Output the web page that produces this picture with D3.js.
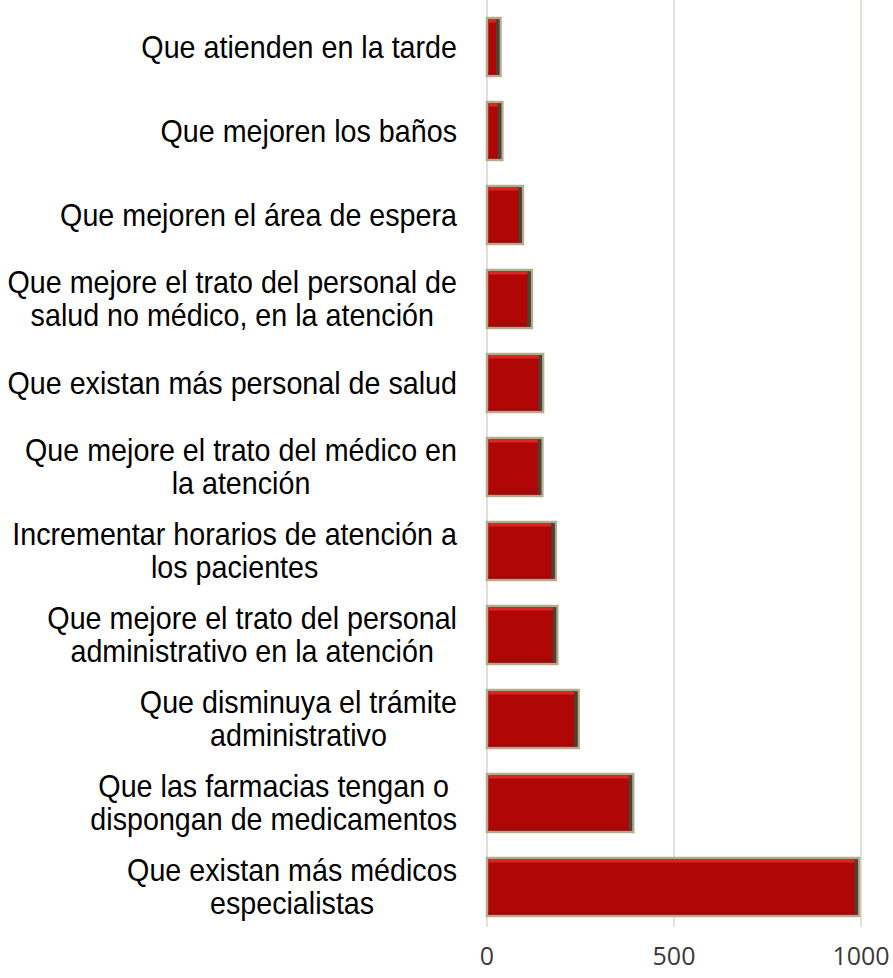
<!DOCTYPE html>
<html>
<head>
<meta charset="utf-8">
<script src="https://cdn.jsdelivr.net/npm/d3@7"></script>
<style>
  html, body { margin: 0; padding: 0; background: #ffffff; }
  svg { display: block; }
</style>
</head>
<body>
<svg id="chart" width="893" height="978"></svg>
<script>
const categories = [
  "Que atienden en la tarde",
  "Que mejoren los baños",
  "Que mejoren el área de espera",
  "Que mejore el trato del personal de\nsalud no médico, en la atención",
  "Que existan más personal de salud",
  "Que mejore el trato del médico en\nla atención",
  "Incrementar horarios de atención a\nlos pacientes",
  "Que mejore el trato del personal\nadministrativo en la atención",
  "Que disminuya el trámite\nadministrativo",
  "Que las farmacias tengan o\ndispongan de medicamentos",
  "Que existan más médicos\nespecialistas"
];
const values = [36, 41, 96, 120, 150, 148, 184, 188, 245, 391, 995];
const tickValues = [0, 500, 1000];
const tickLabels = ["0", "500", "1000"];

const svg = d3.select("#chart");

const x = d3.scaleLinear().domain([0, 1000]).range([487, 861]);
const y = d3.scaleBand().domain(categories).range([5, 929]).paddingInner(0.31).paddingOuter(0.155);

// gridlines
svg.append("g").selectAll("line").data(tickValues).join("line")
  .attr("x1", d => x(d)).attr("x2", d => x(d))
  .attr("y1", 0).attr("y2", 927)
  .attr("stroke", "#e4e1d8").attr("stroke-width", 2);

// bars
const bars = svg.append("g").selectAll("g").data(categories).join("g");
bars.append("rect")
  .attr("x", x(0))
  .attr("y", d => y(d))
  .attr("width", (d, i) => x(values[i]) - x(0))
  .attr("height", y.bandwidth())
  .attr("fill", "#b00606")
  .attr("stroke", "#b3ab8c")
  .attr("stroke-width", 2.5);
// top highlight
bars.append("rect")
  .attr("x", x(0) + 1.5)
  .attr("y", d => y(d) + 1.5)
  .attr("width", (d, i) => Math.max(0, x(values[i]) - x(0) - 5))
  .attr("height", 3)
  .attr("fill", "#d92626");
// bottom darker strip
bars.append("rect")
  .attr("x", x(0) + 1.5)
  .attr("y", d => y(d) + y.bandwidth() - 3.5)
  .attr("width", (d, i) => Math.max(0, x(values[i]) - x(0) - 4))
  .attr("height", 2)
  .attr("fill", "#8e1010");
// right shadow
bars.append("rect")
  .attr("x", (d, i) => x(values[i]) - 4.5)
  .attr("y", d => y(d) + 1.5)
  .attr("width", 3.5)
  .attr("height", y.bandwidth() - 3)
  .attr("fill", "#4a4232");

// category labels (narrow sans: condensed horizontally)
const fs = 31, lh = 33, rightEdge = 457, sx = 0.925;
const labels = svg.append("g")
  .attr("font-family", "'Liberation Sans', Arial, sans-serif")
  .attr("font-size", fs)
  .attr("fill", "#000");
categories.forEach(c => {
  const lines = c.split("\n");
  const cy = y(c) + y.bandwidth() / 2;
  const t = labels.append("text").attr("text-anchor", "middle");
  lines.forEach((ln, k) => {
    t.append("tspan")
      .attr("x", 0)
      .attr("y", cy + 11 + (k - (lines.length - 1) / 2) * lh)
      .text(ln);
  });
  let maxW = 0;
  t.selectAll("tspan").each(function() { maxW = Math.max(maxW, this.getComputedTextLength()); });
  const cx = rightEdge - (maxW * sx) / 2;
  t.attr("transform", `translate(${cx},0) scale(${sx},1)`);
});

// x tick labels
svg.append("g").selectAll("text").data(tickValues).join("text")
  .attr("x", d => x(d))
  .attr("y", 965)
  .attr("text-anchor", "middle")
  .attr("font-family", "'Open Sans', sans-serif")
  .attr("font-size", 25)
  .attr("fill", "#3a3a3a")
  .text((d, i) => tickLabels[i]);
</script>
</body>
</html>
